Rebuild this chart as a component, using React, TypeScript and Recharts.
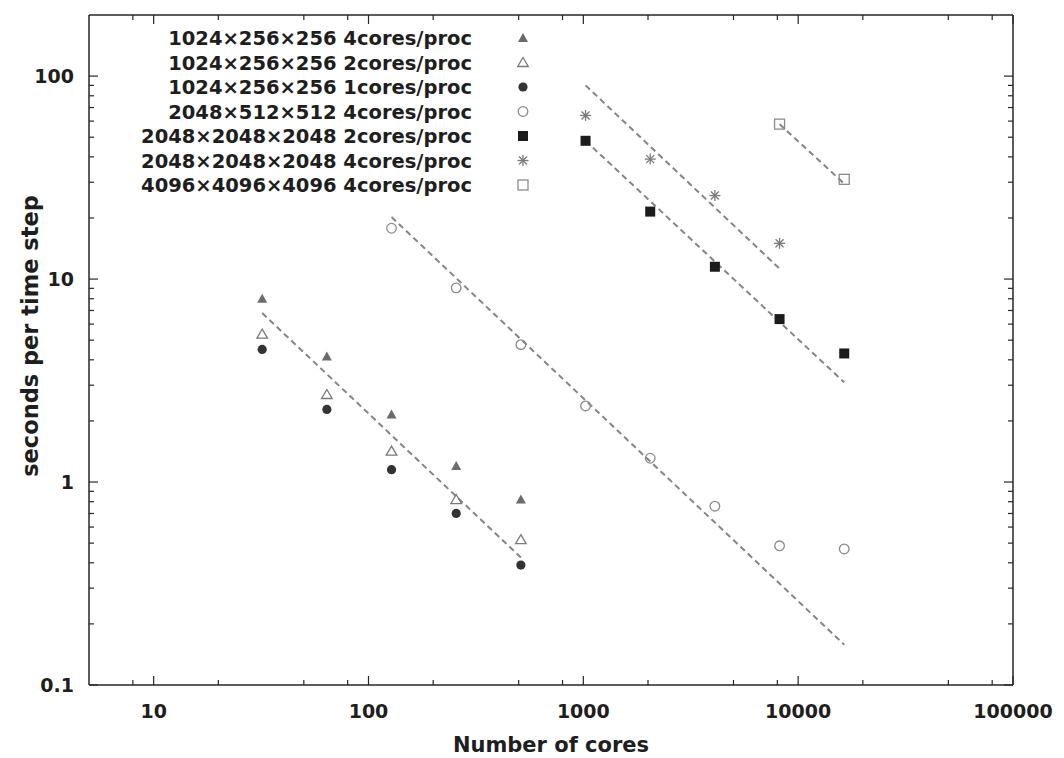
import React from 'react';
import { ScatterChart, Scatter, XAxis, YAxis, Legend } from 'recharts';

// ---- data -------------------------------------------------------------
const seriesNames = [
  '1024×256×256 4cores/proc',
  '1024×256×256 2cores/proc',
  '1024×256×256 1cores/proc',
  '2048×512×512 4cores/proc',
  '2048×2048×2048 2cores/proc',
  '2048×2048×2048 4cores/proc',
  '4096×4096×4096 4cores/proc',
];

const coresSmall = [32, 64, 128, 256, 512];
const coresMid = [128, 256, 512, 1024, 2048, 4096, 8192, 16384];
const coresLarge = [1024, 2048, 4096, 8192, 16384];
const coresLarge4 = [1024, 2048, 4096, 8192];
const coresHuge = [8192, 16384];

const small4 = [8.0, 4.15, 2.15, 1.2, 0.82];
const small2 = [5.35, 2.7, 1.42, 0.82, 0.52];
const small1 = [4.5, 2.28, 1.15, 0.7, 0.39];
const mid4 = [17.8, 9.05, 4.75, 2.37, 1.31, 0.76, 0.485, 0.468];
const large2 = [48, 21.5, 11.5, 6.35, 4.3];
const large4 = [64, 39, 25.8, 15.0];
const huge4 = [58, 31];

// ideal-scaling reference lines: [start cores, start time, end cores, end time]
const fitSmall = [32, 6.8, 512, 0.425];
const fitMid = [128, 20.2, 16384, 0.158];
const fitLarge2 = [1024, 48, 16384, 3.1];
const fitLarge4 = [1024, 90, 8192, 11.25];
const fitHuge = [8192, 58, 16384, 29.5];

const xDomain = [5, 100000];
const yDomain = [0.1, 200];
const xMajor = [10, 100, 1000, 10000, 100000];
const xMinor = [8, 20, 50, 80, 200, 500, 800, 2000, 5000, 8000, 20000, 50000, 80000];
const yMajor = [0.1, 1, 10, 100];
const yMinor = [
  0.2, 0.3, 0.4, 0.5, 0.6, 0.7, 0.8, 0.9,
  2, 3, 4, 5, 6, 7, 8, 9,
  20, 30, 40, 50, 60, 70, 80, 90,
];

// ---- helpers ----------------------------------------------------------
const toPoints = (xs: number[], ys: number[]) => xs.map((x, i) => ({ x, y: ys[i] }));
const fitPoints = (f: number[]) => [
  { x: f[0], y: f[1] },
  { x: f[2], y: f[3] },
];

const FONT = '"DejaVu Sans", "Liberation Sans", sans-serif';
const AXIS = '#262626';
const FIT = '#858585';

type MarkerKind = 'triFilled' | 'triOpen' | 'dot' | 'ring' | 'squareFilled' | 'star' | 'squareOpen';
const markerKinds: MarkerKind[] = ['triFilled', 'triOpen', 'dot', 'ring', 'squareFilled', 'star', 'squareOpen'];

function Marker({ kind, cx, cy }: { kind: MarkerKind; cx: number; cy: number }) {
  switch (kind) {
    case 'triFilled':
      return <polygon points={`${cx},${cy - 5} ${cx + 5},${cy + 4} ${cx - 5},${cy + 4}`} fill="#6b6b6b" />;
    case 'triOpen':
      return (
        <polygon
          points={`${cx},${cy - 5} ${cx + 5.3},${cy + 4} ${cx - 5.3},${cy + 4}`}
          fill="none"
          stroke="#7a7a7a"
          strokeWidth={1.3}
        />
      );
    case 'dot':
      return <circle cx={cx} cy={cy} r={4.6} fill="#333" />;
    case 'ring':
      return <circle cx={cx} cy={cy} r={4.8} fill="none" stroke="#8a8a8a" strokeWidth={1.3} />;
    case 'squareFilled':
      return <rect x={cx - 5} y={cy - 5} width={10} height={10} fill="#1b1b1b" />;
    case 'star':
      return (
        <g stroke="#7a7a7a" strokeWidth={1.3}>
          <line x1={cx} y1={cy - 5.5} x2={cx} y2={cy + 5.5} />
          <line x1={cx - 5.5} y1={cy} x2={cx + 5.5} y2={cy} />
          <line x1={cx - 4} y1={cy - 4} x2={cx + 4} y2={cy + 4} />
          <line x1={cx - 4} y1={cy + 4} x2={cx + 4} y2={cy - 4} />
        </g>
      );
    case 'squareOpen':
    default:
      return <rect x={cx - 5} y={cy - 5} width={10} height={10} fill="none" stroke="#8a8a8a" strokeWidth={1.3} />;
  }
}

const shapeFor = (kind: MarkerKind) => (props: any) => <Marker kind={kind} cx={props.cx} cy={props.cy} />;
const noShape = () => <g />;

const labelStyle = { fontFamily: FONT, fontWeight: 700, fontSize: 19, fill: '#1e1e1e' } as const;
const fmt = (v: number) => (v < 1 ? String(v) : String(Math.round(v)));

// tick marks point into the plot on all four sides
const BottomTick = (p: any) => {
  const v = p.payload.value;
  const major = xMajor.includes(v);
  return (
    <g>
      <line x1={p.x} y1={p.y} x2={p.x} y2={p.y - (major ? 9 : 5)} stroke={AXIS} strokeWidth={1.2} />
      {major && (
        <text x={p.x} y={p.y + 33} textAnchor="middle" {...labelStyle}>
          {fmt(v)}
        </text>
      )}
    </g>
  );
};
const TopTick = (p: any) => {
  const major = xMajor.includes(p.payload.value);
  return <line x1={p.x} y1={p.y} x2={p.x} y2={p.y + (major ? 9 : 5)} stroke={AXIS} strokeWidth={1.2} />;
};
const LeftTick = (p: any) => {
  const v = p.payload.value;
  const major = yMajor.includes(v);
  return (
    <g>
      <line x1={p.x} y1={p.y} x2={p.x + (major ? 9 : 5)} y2={p.y} stroke={AXIS} strokeWidth={1.2} />
      {major && (
        <text x={p.x - 15} y={p.y + 7} textAnchor="end" {...labelStyle}>
          {fmt(v)}
        </text>
      )}
    </g>
  );
};
const RightTick = (p: any) => {
  const major = yMajor.includes(p.payload.value);
  return <line x1={p.x} y1={p.y} x2={p.x - (major ? 9 : 5)} y2={p.y} stroke={AXIS} strokeWidth={1.2} />;
};

const LegendBox = () => (
  <svg width={560} height={200} style={{ display: 'block' }}>
    {seriesNames.map((name, i) => {
      const cy = 38 + i * 24.5;
      return (
        <g key={name}>
          <text x={472} y={cy + 7} textAnchor="end" fontFamily={FONT} fontWeight={700} fontSize={19.5} fill="#1e1e1e">
            {name}
          </text>
          <Marker kind={markerKinds[i]} cx={523} cy={cy} />
        </g>
      );
    })}
  </svg>
);

const XTitle = (p: any) => {
  const vb = p.viewBox;
  return (
    <text x={vb.x + vb.width / 2} y={vb.y + 67} textAnchor="middle" fontFamily={FONT} fontWeight={700} fontSize={21} fill="#1e1e1e">
      Number of cores
    </text>
  );
};
const YTitle = () => (
  <text
    x={0}
    y={0}
    transform="translate(38, 336) rotate(-90)"
    textAnchor="middle"
    fontFamily={FONT}
    fontWeight={700}
    fontSize={22.5}
    fill="#1e1e1e"
  >
    seconds per time step
  </text>
);

const dataSets = [
  toPoints(coresSmall, small4),
  toPoints(coresSmall, small2),
  toPoints(coresSmall, small1),
  toPoints(coresMid, mid4),
  toPoints(coresLarge, large2),
  toPoints(coresLarge4, large4),
  toPoints(coresHuge, huge4),
];
const fits = [fitSmall, fitMid, fitLarge2, fitLarge4, fitHuge].map(fitPoints);
// corners of the frame, bound to the mirror axes on the top and right
const frameCorners = [
  { x: xDomain[0], y: yDomain[0] },
  { x: xDomain[1], y: yDomain[1] },
];

const xTicks = [...xMajor, ...xMinor].sort((a, b) => a - b);
const yTicks = [...yMajor, ...yMinor].sort((a, b) => a - b);

export default function App() {
  return (
    <div style={{ position: 'absolute', left: 0, top: 0, background: '#fff' }}>
      <ScatterChart width={1064} height={758} margin={{ top: 14, right: 50, bottom: 0, left: 0 }}>
        <XAxis
          dataKey="x"
          type="number"
          scale="log"
          domain={xDomain}
          allowDataOverflow
          ticks={xTicks}
          interval={0}
          tickSize={0}
          tickMargin={0}
          tickLine={false}
          tick={BottomTick}
          height={73}
          axisLine={{ stroke: AXIS, strokeWidth: 1.5 }}
          label={<XTitle />}
        />
        <XAxis
          xAxisId="top"
          dataKey="x"
          orientation="top"
          type="number"
          scale="log"
          domain={xDomain}
          allowDataOverflow
          ticks={xTicks}
          interval={0}
          tickSize={0}
          tickMargin={0}
          tickLine={false}
          tick={TopTick}
          height={1}
          axisLine={{ stroke: AXIS, strokeWidth: 1.5 }}
        />
        <YAxis
          dataKey="y"
          type="number"
          scale="log"
          domain={yDomain}
          allowDataOverflow
          ticks={yTicks}
          interval={0}
          tickSize={0}
          tickMargin={0}
          tickLine={false}
          tick={LeftTick}
          width={89}
          axisLine={{ stroke: AXIS, strokeWidth: 1.5 }}
          label={<YTitle />}
        />
        <YAxis
          yAxisId="right"
          dataKey="y"
          orientation="right"
          type="number"
          scale="log"
          domain={yDomain}
          allowDataOverflow
          ticks={yTicks}
          interval={0}
          tickSize={0}
          tickMargin={0}
          tickLine={false}
          tick={RightTick}
          width={1}
          axisLine={{ stroke: AXIS, strokeWidth: 1.5 }}
        />
        <Scatter
          xAxisId="top"
          yAxisId="right"
          data={frameCorners}
          shape={noShape}
          legendType="none"
          isAnimationActive={false}
        />
        {fits.map((f, i) => (
          <Scatter
            key={`fit-${i}`}
            data={f}
            line={{ stroke: FIT, strokeWidth: 2, strokeDasharray: '6 4' }}
            shape={noShape}
            legendType="none"
            isAnimationActive={false}
          />
        ))}
        {dataSets.map((d, i) => (
          <Scatter
            key={seriesNames[i]}
            name={seriesNames[i]}
            data={d}
            shape={shapeFor(markerKinds[i])}
            isAnimationActive={false}
          />
        ))}
        <Legend
          layout="vertical"
          align="center"
          verticalAlign="middle"
          content={LegendBox}
          wrapperStyle={{ left: 0, top: 0, width: 560, height: 200 }}
        />
      </ScatterChart>
    </div>
  );
}
